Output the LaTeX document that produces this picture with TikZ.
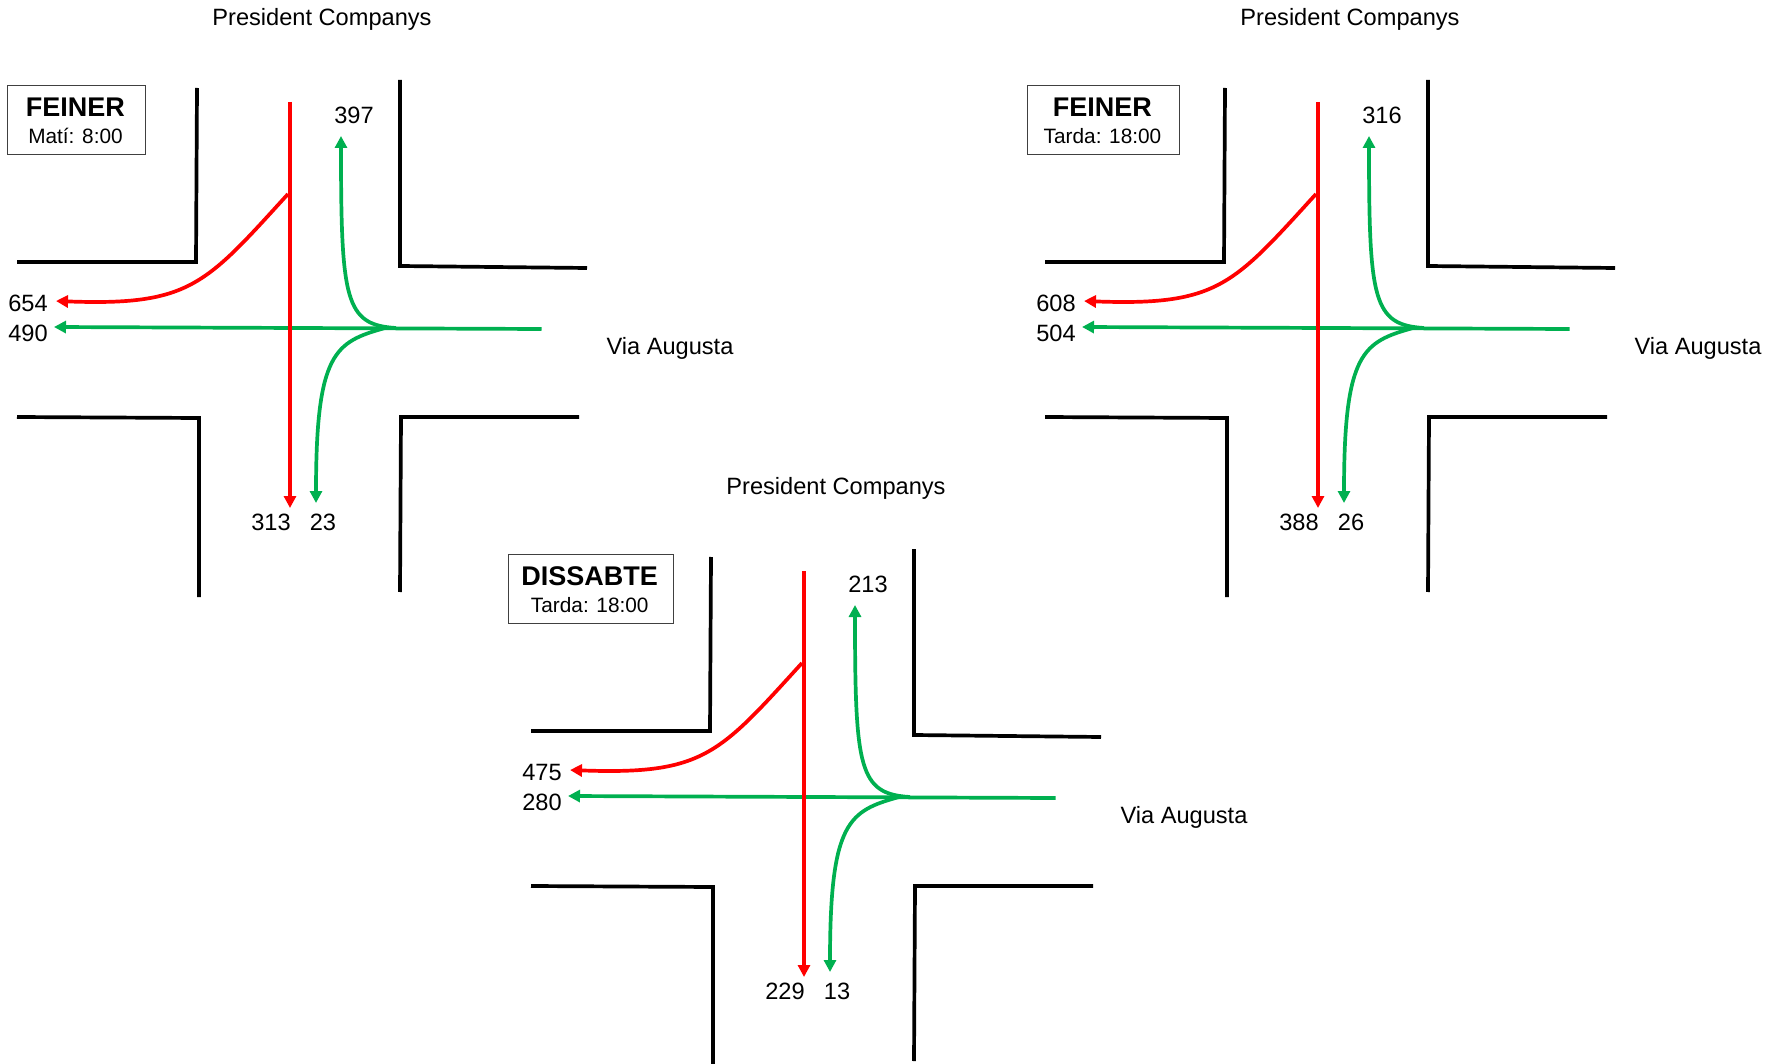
\documentclass[tikz,border=0pt]{standalone}
\usepackage{fontspec}
\setmainfont{Liberation Sans}
\usetikzlibrary{arrows.meta}
\definecolor{rtgreen}{RGB}{0,176,80}
\definecolor{rtred}{RGB}{255,0,0}
\tikzset{
  wall/.style={draw=black,line width=3.7pt,line join=miter},
  redroute/.style={draw=rtred,line width=3.7pt},
  greenroute/.style={draw=rtgreen,line width=3.7pt},
  routetip/.style={-{Triangle[length=12pt,width=12pt]}},
  lbl/.style={font=\fontsize{23.6}{27}\selectfont,inner sep=0pt,text=black},
  tagbox/.style={draw=black!75,line width=1pt,fill=white,minimum height=69pt,inner sep=0pt,anchor=north west,align=center},
}
% #1 prefix, #2 dx, #3 dy, #4 box width (box x in \boxx), #5 title, #6 sub, #7 up, #8 left-red, #9 left-green
\newcommand{\junction}[9]{%
\begin{scope}[shift={(#2,#3)}]
  \coordinate (#1nwa) at (197,88); \coordinate (#1nwb) at (196,262); \coordinate (#1nwc) at (17,262);
  \coordinate (#1nea) at (400,80); \coordinate (#1neb) at (400,266); \coordinate (#1nec) at (587,268);
  \coordinate (#1swa) at (17,417); \coordinate (#1swb) at (199,418); \coordinate (#1swc) at (199,597);
  \coordinate (#1sea) at (400,592); \coordinate (#1seb) at (401,417); \coordinate (#1sec) at (579,417);
  \coordinate (#1rt) at (290,102); \coordinate (#1rb) at (290,508);
  \coordinate (#1rc) at (288,194); \coordinate (#1rl) at (56,301);
  \coordinate (#1ge) at (541.5,329); \coordinate (#1gl) at (54,327);
  \coordinate (#1gj) at (396,328); \coordinate (#1gu) at (341,136);
  \coordinate (#1gk) at (385,328); \coordinate (#1gd) at (316,503);
  \draw[wall] (#1nwa) -- (#1nwb) -- (#1nwc);
  \draw[wall] (#1nea) -- (#1neb) -- (#1nec);
  \draw[wall] (#1swa) -- (#1swb) -- (#1swc);
  \draw[wall] (#1sea) -- (#1seb) -- (#1sec);
  \draw[greenroute,routetip] (#1ge) -- (#1gl);
  \draw[greenroute,routetip] (#1gj) .. controls (345,325) and (341,300) .. (#1gu);
  \draw[greenroute,routetip] (#1gk) .. controls (335,342) and (316,352) .. (#1gd);
  \draw[redroute,routetip] (#1rc) .. controls (205,285) and (190,306) .. (#1rl);
  \draw[redroute,routetip] (#1rt) -- (#1rb);
  \node[lbl] (#1title) at (322,19) {President Companys};
  \node[lbl] (#1via) at (670,348) {Via Augusta};
  \node[lbl] (#1up) at (354,115) {#7};
  \node[lbl] (#1lr) at (28,303) {#8};
  \node[lbl] (#1lg) at (28,333) {#9};
  \node[tagbox,minimum width=#4pt] (#1box) at (\boxx,85) {};
  \node[inner sep=0pt,font=\fontsize{27}{30}\selectfont\bfseries] (#1tt) at ([xshift=-1.2pt,yshift=-22pt]#1box.north) {#5};
  \node[inner sep=0pt,font=\fontsize{20.8}{24}\selectfont] (#1st) at ([xshift=-1pt,yshift=-51pt]#1box.north) {#6};
\end{scope}}
\begin{document}
\begin{tikzpicture}[x=1pt,y=-1pt]
\useasboundingbox (0,0) rectangle (1781,1064);
\def\boxx{7}
\junction{a}{0}{0}{138}{FEINER}{Matí: 8:00}{397}{654}{490}
\node[lbl] (ad1) at (271,522) {313};
\node[lbl] (ad2) at (323,522) {23};
\def\boxx{-1}
\junction{b}{1028}{0}{152}{FEINER}{Tarda: 18:00}{316}{608}{504}
\node[lbl] (bd1) at (1299,522) {388};
\node[lbl] (bd2) at (1351,522) {26};
\def\boxx{-6}
\junction{c}{514}{469}{164.5}{DISSABTE}{Tarda: 18:00}{213}{475}{280}
\node[lbl] (cd1) at (785,991) {229};
\node[lbl] (cd2) at (837,991) {13};
\end{tikzpicture}
\end{document}
